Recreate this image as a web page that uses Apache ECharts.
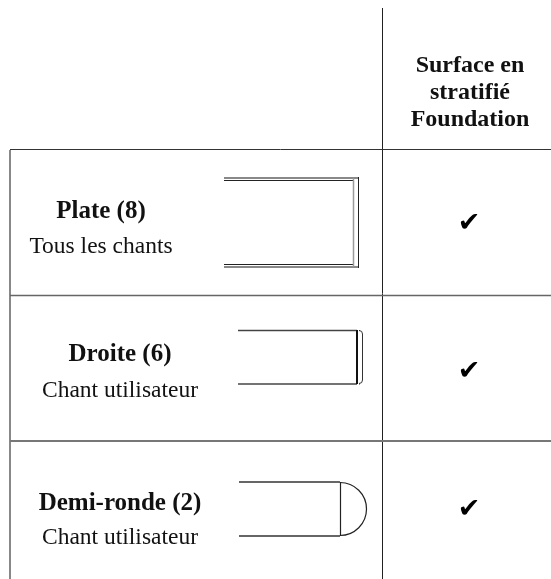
<!DOCTYPE html>
<html><head><meta charset="utf-8">
<style>html,body{margin:0;padding:0;background:#fff}#c{width:551px;height:579px}</style>
<script src="https://cdn.jsdelivr.net/npm/echarts@6/dist/echarts.min.js"></script>
</head><body><div id="c"></div>
<script>
const headerLines = ['Surface en', 'stratifié', 'Foundation'];
const profileNames = ['Plate', 'Droite', 'Demi-ronde'];
const profileCounts = [8, 6, 2];
const profileEdges = ['Tous les chants', 'Chant utilisateur', 'Chant utilisateur'];
const checkMark = '✔';

const font = '"Liberation Serif", serif';
const chart = echarts.init(document.getElementById('c'), null, {renderer:'canvas'});
const g = [];
function line(x1,y1,x2,y2,color,w){g.push({type:'line',shape:{x1,y1,x2,y2},style:{stroke:color,lineWidth:w}});}
function text(x,base,t,size,weight){g.push({type:'text',x,y:base-0.31*size,style:{text:t,fill:'#111',font:`${weight} ${size}px ${font}`,textAlign:'center',textVerticalAlign:'middle'}});}
function arc(cx,cy,r,a0,a1,color,w){g.push({type:'arc',shape:{cx,cy,r,startAngle:a0,endAngle:a1,clockwise:true},style:{stroke:color,fill:null,lineWidth:w}});}

// grid
line(382.5,8,382.5,579,'#222',1);
line(10,150,10,579,'#888',2);
line(10,149.5,551,149.5,'#333',1);
line(10,295.5,551,295.5,'#666',1.5);
line(10,441,551,441,'#777',2);

// header
const headerBase=[73,100,127];
headerLines.forEach((t,i)=>text(470,headerBase[i],t,24,'bold'));

// row labels
const titleX=[101,120,120], titleY=[219,362,511], subY=[254,398,545];
profileNames.forEach((n,i)=>{
  text(titleX[i],titleY[i],`${n} (${profileCounts[i]})`,25,'bold');
  text(titleX[i],subY[i],profileEdges[i],23.5,'normal');
});

// check marks
const checkY=[224,372,510];
checkY.forEach(y=>g.push({type:'text',x:469,y,style:{text:checkMark,fill:'#000',font:'bold 27px "DejaVu Sans"',textAlign:'center',textVerticalAlign:'middle'}}));

// plate
line(224,178,358,178,'#888',2);
line(224,180.5,353,180.5,'#222',1);
line(224,264.5,353,264.5,'#222',1);
line(224,267,358,267,'#888',2);
line(353.5,178,353.5,267,'#999',1.5);
line(358.5,177,358.5,268,'#222',1);
// droite
line(238,330.5,357,330.5,'#444',1.5);
line(238,384,357,384,'#444',1.5);
line(357,330,357,384,'#111',2);
line(359,330.5,360,330.5,'#333',1);
line(359,384,360,384,'#333',1);
line(362.5,334,362.5,380,'#333',1);
arc(359,334,3.5,-Math.PI/2,0,'#333',1);
arc(359,380,3.5,0,Math.PI/2,'#333',1);
// demi-ronde
line(239,482,340,482,'#333',1.5);
line(239,536,340,536,'#333',1.5);
line(340.5,482,340.5,536,'#222',1.2);
arc(340,509,26.5,-Math.PI/2,Math.PI/2,'#222',1.2);

chart.setOption({animation:false,graphic:{elements:g}});
</script></body></html>
